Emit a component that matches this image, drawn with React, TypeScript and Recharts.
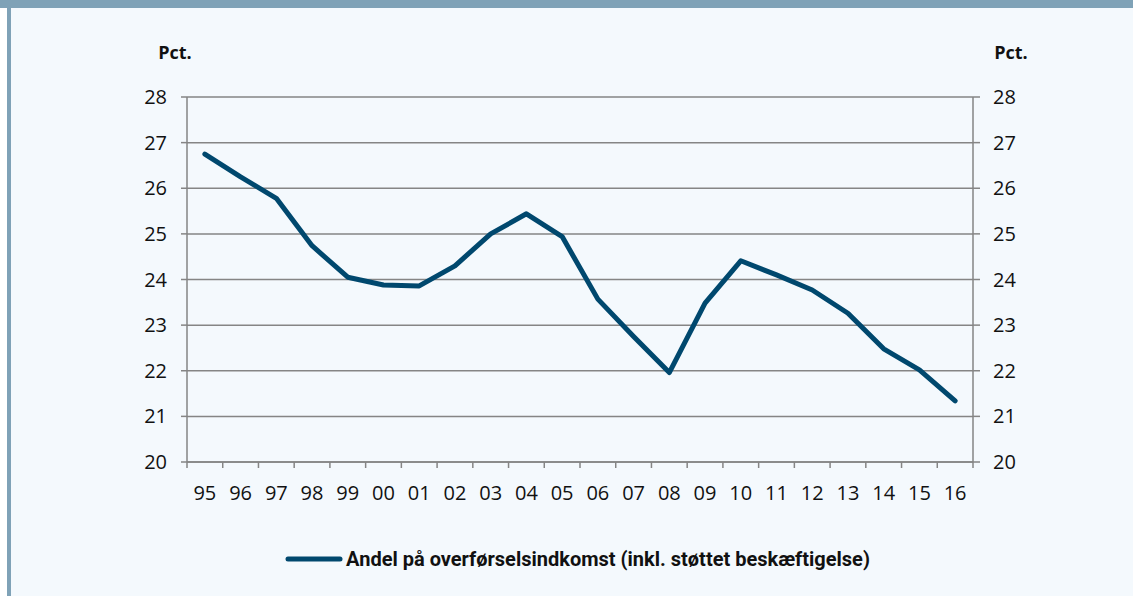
import React from 'react';
import { LineChart, Line, XAxis, YAxis, CartesianGrid, Legend } from 'recharts';

const years = ['95', '96', '97', '98', '99', '00', '01', '02', '03', '04', '05', '06', '07', '08', '09', '10', '11', '12', '13', '14', '15', '16'];
const andel = [26.75, 26.25, 25.78, 24.74, 24.05, 23.88, 23.86, 24.3, 25.0, 25.44, 24.94, 23.57, 22.75, 21.96, 23.48, 24.41, 24.1, 23.77, 23.26, 22.48, 22.02, 21.34];
const yTicks = [20, 21, 22, 23, 24, 25, 26, 27, 28];
const seriesName = 'Andel på overførselsindkomst (inkl. støttet beskæftigelse)';
const unitLabel = 'Pct.';

const data = years.map((y, i) => ({ idx: i, year: y, andel: andel[i] }));
const xTicks: number[] = [];
for (let i = 0; i <= years.length; i++) {
  xTicks.push(i - 0.5);
  if (i < years.length) xTicks.push(i);
}

const GRID = '#858585';
const LINE = '#00486e';
const BAR = '#7fa2b7';
const BG = '#f4f9fd';
const FONT = '"Open Sans", sans-serif';

const XTick = (props: any) => {
  const { x, y, payload } = props;
  const v = payload.value;
  if (Number.isInteger(v)) {
    return (
      <text x={x} y={y + 30} textAnchor="middle" dominantBaseline="central" fontFamily={FONT} fontSize={20} fill="#111">
        {years[v]}
      </text>
    );
  }
  return <line x1={x} x2={x} y1={y} y2={y + 6} stroke={GRID} strokeWidth={1.5} />;
};

const LegendContent = () => (
  <div style={{ display: 'flex', alignItems: 'center', justifyContent: 'center', width: '100%', height: 30 }}>
    <svg width={58} height={10} style={{ marginRight: 3 }}>
      <line x1={3} x2={55} y1={5} y2={5} stroke={LINE} strokeWidth={5} strokeLinecap="round" />
    </svg>
    <span style={{ fontFamily: 'Roboto, sans-serif', fontWeight: 700, fontSize: 20, color: '#111', letterSpacing: 0.0 }}>
      {seriesName}
    </span>
  </div>
);

export default function App() {
  return (
    <div style={{ position: 'absolute', left: 0, top: 0, width: 1133, height: 596, background: '#fff', overflow: 'hidden' }}>
      <div style={{ position: 'absolute', left: 0, top: 0, width: 1133, height: 8, background: BAR }} />
      <div style={{ position: 'absolute', left: 7, top: 8, width: 4, height: 588, background: BAR }} />
      <div style={{ position: 'absolute', left: 11, top: 8, width: 1122, height: 588, background: BG }} />
      <div style={{ position: 'absolute', left: 140, top: 40, width: 70, textAlign: 'center', fontFamily: FONT, fontWeight: 700, fontSize: 18, color: '#111' }}>{unitLabel}</div>
      <div style={{ position: 'absolute', left: 976, top: 40, width: 70, textAlign: 'center', fontFamily: FONT, fontWeight: 700, fontSize: 18, color: '#111' }}>{unitLabel}</div>
      <div style={{ position: 'absolute', left: 0, top: 0 }}>
        <LineChart width={1133} height={596} data={data} margin={{ top: 97, right: 100, bottom: 74, left: 127 }}>
          <CartesianGrid vertical={false} stroke={GRID} strokeWidth={1.5} xAxisId="x" yAxisId="l" />
          <XAxis
            xAxisId="x"
            dataKey="idx"
            type="number"
            domain={[-0.5, years.length - 0.5]}
            ticks={xTicks}
            interval={0}
            tickSize={0}
            tickMargin={0}
            tickLine={false}
            tick={<XTick />}
            axisLine={{ stroke: GRID, strokeWidth: 1.5 }}
            height={30}
          />
          <YAxis
            yAxisId="l"
            orientation="left"
            domain={[20, 28]}
            ticks={yTicks}
            interval={0}
            width={60}
            tickSize={6}
            tickMargin={14}
            tickLine={{ stroke: GRID, strokeWidth: 1.5 }}
            axisLine={{ stroke: GRID, strokeWidth: 1.5 }}
            tick={{ fontFamily: FONT, fontSize: 20, fill: '#111' }}
          />
          <YAxis
            yAxisId="r"
            orientation="right"
            domain={[20, 28]}
            ticks={yTicks}
            interval={0}
            width={60}
            tickSize={7}
            tickMargin={13}
            tickLine={{ stroke: GRID, strokeWidth: 1.5 }}
            axisLine={{ stroke: GRID, strokeWidth: 1.5 }}
            tick={{ fontFamily: FONT, fontSize: 20, fill: '#111' }}
          />
          <Line
            xAxisId="x"
            yAxisId="r"
            type="linear"
            dataKey="andel"
            stroke="none"
            strokeOpacity={0}
            dot={false}
            activeDot={false}
            legendType="none"
            isAnimationActive={false}
          />
          <Line
            xAxisId="x"
            yAxisId="l"
            type="linear"
            dataKey="andel"
            name={seriesName}
            stroke={LINE}
            strokeWidth={5}
            strokeLinejoin="round"
            strokeLinecap="round"
            dot={false}
            activeDot={false}
            isAnimationActive={false}
          />
          <Legend content={<LegendContent />} wrapperStyle={{ position: 'absolute', left: 11, top: 544, width: 1133, height: 30 }} />
        </LineChart>
      </div>
    </div>
  );
}
